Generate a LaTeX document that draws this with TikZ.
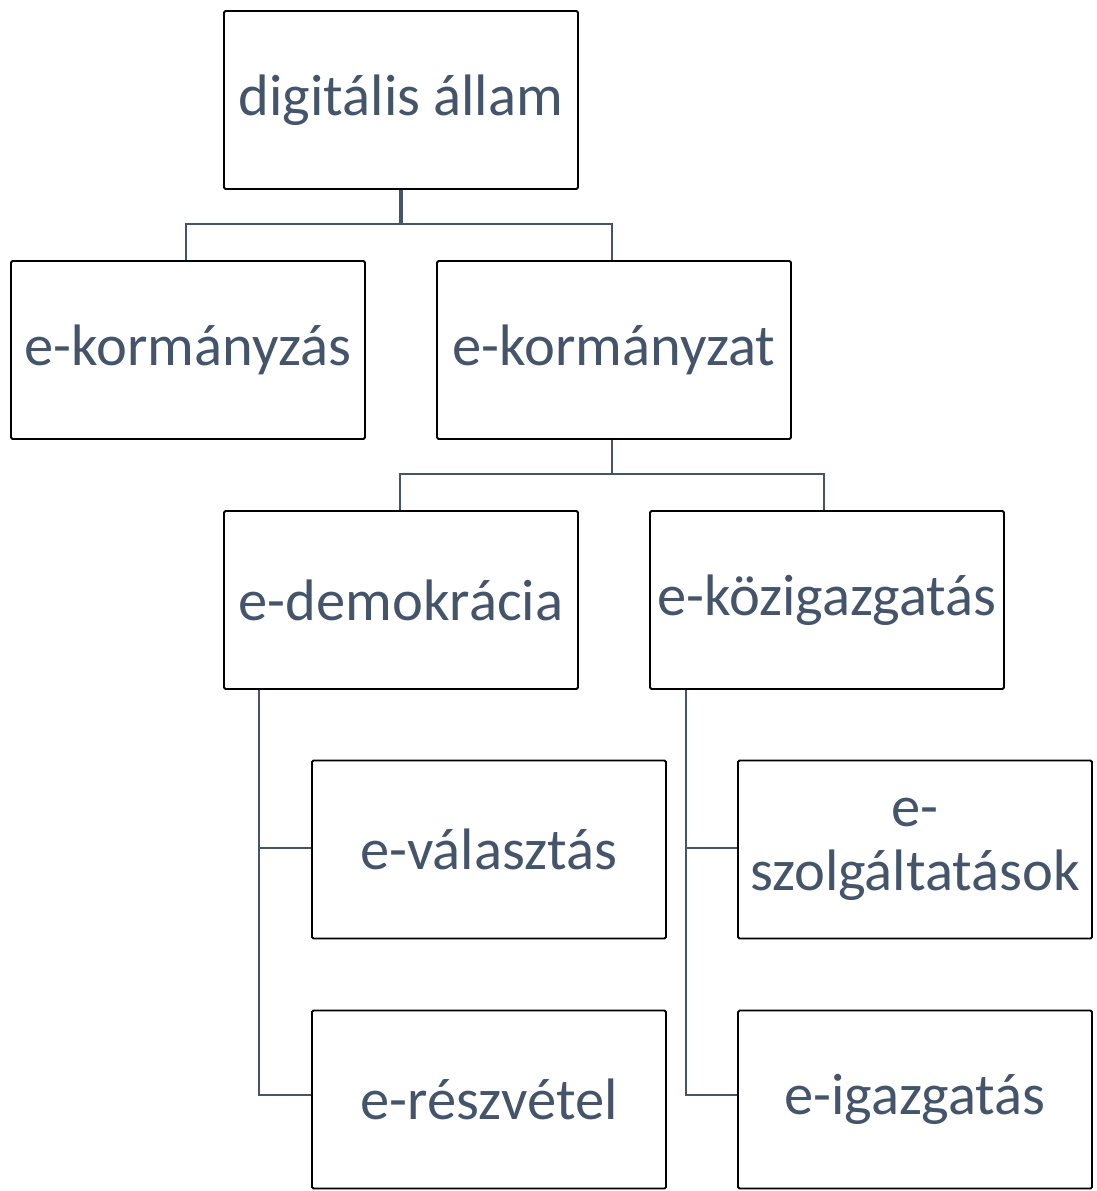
\documentclass[tikz,border=0pt]{standalone}
\usepackage{fontspec}
\setmainfont{Carlito}
\definecolor{txt}{HTML}{44546A}
\definecolor{ln}{HTML}{44546A}
\begin{document}
\begin{tikzpicture}[x=1pt,y=-1pt,
  box/.style={draw=black,line width=1.8pt,rounded corners=1.5pt,minimum width=354pt,minimum height=178pt,
    text=txt,font=\fontsize{58.5}{64}\selectfont,align=center,inner sep=0pt},
  conn/.style={draw=ln,line width=2.5pt}]
\useasboundingbox (0,0) rectangle (1096,1191);
\node[box] (da) at (401,100) {digitális állam};
\node[box] (kz) at (188,350) {e-kormányzás};
\node[box] (kt) at (614,350) {e-kormányzat};
\node[box] (dm) at (401,600) {e-demokrácia};
\node[box] (kg) at (827,600) {e-közigazgatás};
\node[box] (vl) at (489,849.5) {e-választás};
\node[box] (rv) at (489,1099.5) {e-részvétel};
\node[box] (sz) at (915,849.5) {e-\\szolgáltatások};
\node[box] (ig) at (915,1099.5) {e-igazgatás};
\coordinate (j1) at (401,224);
\coordinate (j2) at (612,474);
\draw[conn,line width=3.5pt] (da.south) -- (j1);
\draw[conn] (kz.north -| 186,0) |- (j1) -| (kt.north -| 612,0);
\draw[conn] (kt.south -| 612,0) -- (j2);
\draw[conn] (dm.north -| 400,0) |- (j2) -| (kg.north -| 824,0);
\draw[conn] (dm.south -| 259,0) |- (rv.west |- 0,1095);
\draw[conn] (259,848) -- (vl.west |- 0,848);
\draw[conn] (kg.south -| 686,0) |- (ig.west |- 0,1095);
\draw[conn] (686,848) -- (sz.west |- 0,848);
\end{tikzpicture}
\end{document}
